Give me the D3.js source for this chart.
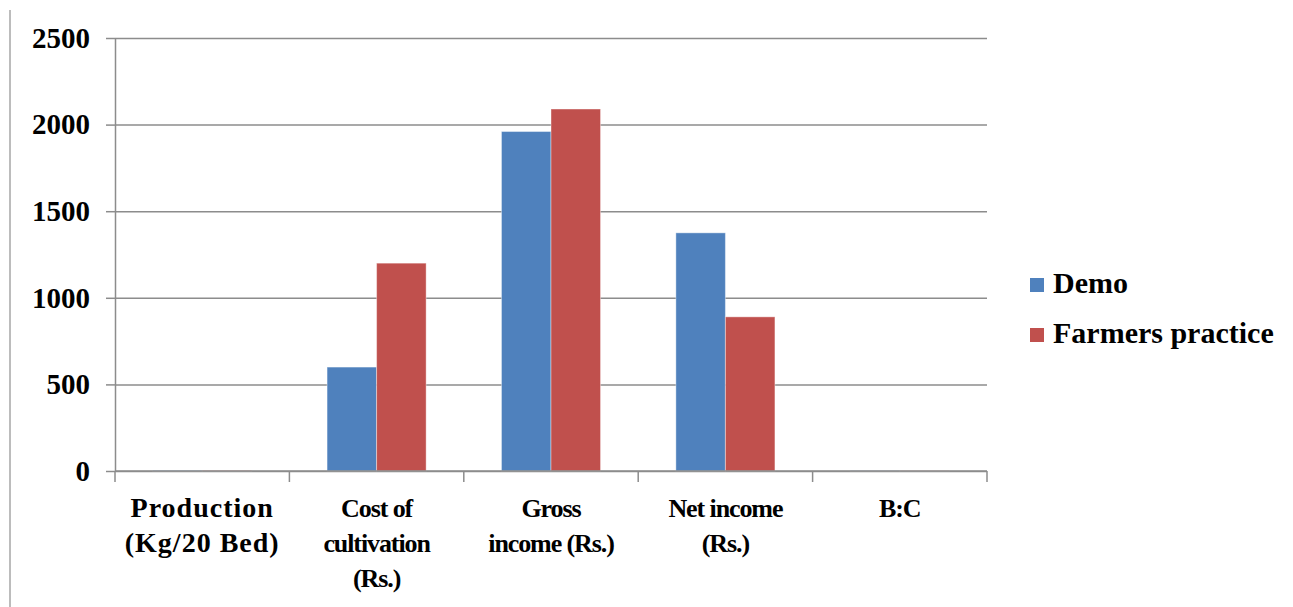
<!DOCTYPE html>
<html>
<head>
<meta charset="utf-8">
<title></title>
<style>
  body { margin: 0; background: #fff; }
  text { font-family: "Liberation Serif", "DejaVu Serif", serif; }
</style>
</head>
<body>
<svg width="1293" height="607"></svg>
<script src="https://d3js.org/d3.v7.min.js"></script>
<script type="text/javascript">
// chart data
const categories = ["Production\n(Kg/20 Bed)", "Cost of\ncultivation\n(Rs.)", "Gross\nincome (Rs.)", "Net income\n(Rs.)", "B:C"];
const series = ["Demo", "Farmers practice"];
const demo = [3, 600, 1960, 1375, 1.6];
const farmers = [2.5, 1200, 2090, 890, 0.9];
const yTicks = [0, 500, 1000, 1500, 2000, 2500];
const colors = ["#4F81BD", "#C0504D"];

const FONT = "Liberation Serif";
const svg = d3.select("svg");
const plotLeft = 115, plotRight = 987, plotTop = 38, plotBottom = 471;
const grey = "#8c8c8c";

// left border line of the picture
svg.append("line")
    .attr("x1", 10).attr("x2", 10)
    .attr("y1", 10).attr("y2", 607)
    .attr("stroke", "#a6a6a6").attr("stroke-width", 1.5);

const x = d3.scaleBand().domain(categories).range([plotLeft, plotRight]).padding(0);
const bw = x.bandwidth();
const x1 = d3.scaleBand().domain(series).range([bw * 0.216, bw * 0.784]).padding(0);
const y = d3.scaleLinear().domain([0, 2500]).range([plotBottom, plotTop]);

// gridlines
const grid = svg.append("g")
    .attr("transform", `translate(${plotLeft},0)`)
    .call(d3.axisLeft(y).tickValues(yTicks).tickSize(-(plotRight - plotLeft)).tickFormat(""));
grid.select(".domain").remove();
grid.selectAll("line").attr("stroke", grey).attr("stroke-width", 1.5);

// y axis with labels
const yAxis = svg.append("g")
    .attr("transform", `translate(${plotLeft},0)`)
    .call(d3.axisLeft(y).tickValues(yTicks).tickFormat(d3.format("d"))
        .tickSize(9).tickSizeOuter(0).tickPadding(16));
yAxis.attr("font-family", FONT).attr("font-size", 29).attr("font-weight", "bold");
yAxis.select(".domain").attr("stroke", grey).attr("stroke-width", 1.5);
yAxis.selectAll("line").attr("stroke", grey).attr("stroke-width", 1.5);
yAxis.selectAll("text").attr("fill", "#000");

// bars
const rows = categories.map((c, i) => ({ cat: c, values: [demo[i], farmers[i]] }));
svg.append("g").selectAll("g")
    .data(rows)
    .join("g")
    .attr("transform", d => `translate(${x(d.cat)},0)`)
    .selectAll("rect")
    .data(d => d.values.map((v, j) => ({ key: series[j], value: v, color: colors[j] })))
    .join("rect")
    .attr("x", d => x1(d.key))
    .attr("width", x1.bandwidth())
    .attr("y", d => y(d.value))
    .attr("height", d => y(0) - y(d.value))
    .attr("fill", d => d.color)
    .attr("stroke", "#fff")
    .attr("stroke-opacity", 0.4)
    .attr("stroke-width", 1);

// x axis line and category boundary ticks
svg.append("line")
    .attr("x1", plotLeft).attr("x2", plotRight)
    .attr("y1", y(0)).attr("y2", y(0))
    .attr("stroke", grey).attr("stroke-width", 1.5);
const bounds = categories.map(c => x(c)).concat([plotRight]);
svg.append("g").selectAll("line")
    .data(bounds)
    .join("line")
    .attr("x1", d => d).attr("x2", d => d)
    .attr("y1", y(0)).attr("y2", y(0) + 11)
    .attr("stroke", grey).attr("stroke-width", 1.5);

// category labels (the first one is set a bit wider in the original)
svg.append("g")
    .attr("font-family", FONT).attr("font-weight", "bold")
    .selectAll("text")
    .data(categories)
    .join("text")
    .attr("text-anchor", "middle")
    .attr("fill", "#000")
    .attr("font-size", (d, i) => i === 0 ? 28 : 26)
    .attr("letter-spacing", (d, i) => i === 0 ? 1 : -1.1)
    .attr("transform", d => `translate(${x(d) + bw / 2},517)`)
    .selectAll("tspan")
    .data(d => d.split("\n"))
    .join("tspan")
    .attr("x", 0)
    .attr("y", (d, i) => i * 35)
    .text(d => d);

// legend
const legend = svg.append("g")
    .attr("font-family", FONT).attr("font-size", 30).attr("font-weight", "bold")
    .selectAll("g")
    .data(series)
    .join("g")
    .attr("transform", (d, i) => `translate(1030,${278 + i * 50})`);
legend.append("rect")
    .attr("width", 14).attr("height", 14)
    .attr("fill", (d, i) => colors[i]);
legend.append("text")
    .attr("x", 23).attr("y", 15)
    .attr("fill", "#000")
    .text(d => d);
</script>
</body>
</html>
